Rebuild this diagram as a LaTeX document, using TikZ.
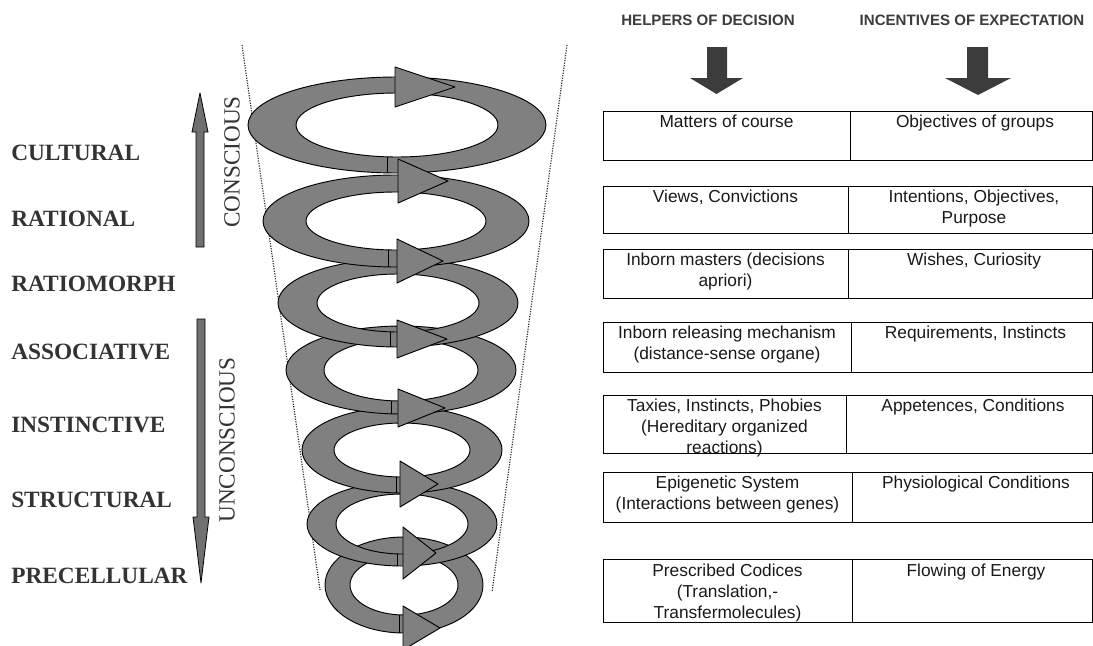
\documentclass[tikz,border=0pt]{standalone}
\usepackage{fontspec}
\setmainfont{Liberation Serif}
\setsansfont{Liberation Sans}
\definecolor{ringgrey}{HTML}{808080}
\definecolor{bargrey}{HTML}{707070}
\definecolor{darkgrey}{HTML}{3C3C3C}
\definecolor{labelgrey}{HTML}{333333}
\tikzset{
  layer/.style     = {anchor=west, inner sep=0pt, text=labelgrey,
                      font=\fontsize{17.5}{20}\selectfont\bfseries},
  statelbl/.style  = {rotate=90, inner sep=0pt, text=labelgrey,
                      font=\fontsize{17.4}{20}\selectfont},
  bar/.style       = {draw=black, fill=bargrey, line width=0.6pt, line join=round},
  ring/.style      = {draw=black, fill=ringgrey, line width=0.7pt, even odd rule},
  arrowhd/.style   = {draw=black, fill=ringgrey, line width=0.7pt, line join=round},
  ringtail/.style  = {draw=black, line width=0.7pt},
  funnel/.style    = {densely dotted, line width=0.9pt, black!80},
  header/.style    = {inner sep=0pt, text=darkgrey,
                      font=\sffamily\bfseries\fontsize{11.3}{13}\selectfont},
  pointer/.style   = {fill=darkgrey},
  cellbox/.style   = {draw=black, line width=0.75pt},
  celltext/.style  = {anchor=north, align=center, inner sep=0pt, text=black!90,
                      font=\sffamily\fontsize{13}{15.5}\selectfont},
}
\begin{document}
\begin{tikzpicture}[x=0.75pt, y=-0.75pt]
  \useasboundingbox (0,0) rectangle (1093,646);

  % levels
  \node[layer] (cultural)    at (11,153) {CULTURAL};
  \node[layer] (rational)    at (11,219) {RATIONAL};
  \node[layer] (ratiomorph)  at (11,284) {RATIOMORPH};
  \node[layer] (associative) at (11,352) {ASSOCIATIVE};
  \node[layer] (instinctive) at (11,425) {INSTINCTIVE};
  \node[layer] (structural)  at (11,500) {STRUCTURAL};
  \node[layer] (precellular) at (11,576) {PRECELLULAR};

  % conscious / unconscious
  \draw[bar] (196,247) -- (196,132) -- (192,132) -- (200,93) -- (208,132) -- (204,132) -- (204,247) -- cycle;
  \draw[bar] (197,319) -- (197,517) -- (193,517) -- (201,583) -- (209,517) -- (205,517) -- (205,319) -- cycle;
  \node[statelbl] (conscious)   at (232,162) {CONSCIOUS};
  \node[statelbl] (unconscious) at (227,440) {UNCONSCIOUS};

  % funnel
  \draw[funnel] (242,45) -- (320,590);
  \draw[funnel] (567,45) -- (492,592);

  % spiral, lowest ring first
  \path[ring] (404,585) ellipse [x radius=79, y radius=48]  (404,585) ellipse [x radius=54, y radius=30];
  \path[ring] (402,524) ellipse [x radius=95, y radius=42]  (402,524) ellipse [x radius=66, y radius=30];
  \path[ring] (402,450) ellipse [x radius=100, y radius=43] (402,450) ellipse [x radius=68, y radius=27];
  \path[ring] (401,370) ellipse [x radius=115, y radius=44] (401,370) ellipse [x radius=77, y radius=31];
  \path[ring] (398,303) ellipse [x radius=120, y radius=44] (398,303) ellipse [x radius=81, y radius=29];
  \path[ring] (396,221) ellipse [x radius=133, y radius=46] (396,221) ellipse [x radius=90, y radius=29];
  \path[ring] (397,125) ellipse [x radius=149, y radius=48] (397,125) ellipse [x radius=101, y radius=32];

  \draw[arrowhd] (395,67)  -- (455,87)  -- (395,107) -- cycle;
  \draw[arrowhd] (398,159) -- (448,181) -- (398,203) -- cycle;
  \draw[arrowhd] (397,239) -- (443,261) -- (397,283) -- cycle;
  \draw[arrowhd] (397,320) -- (447,339) -- (397,358) -- cycle;
  \draw[arrowhd] (398,389) -- (445,408) -- (398,427) -- cycle;
  \draw[arrowhd] (400,461) -- (438,484) -- (400,507) -- cycle;
  \draw[arrowhd] (403,527) -- (436,553) -- (403,579) -- cycle;
  \draw[arrowhd] (403,606) -- (440,628) -- (403,650) -- cycle;

  \draw[ringtail] (387,157) -- (387,173);
  \draw[ringtail] (388,250) -- (388,267);
  \draw[ringtail] (390,332) -- (390,347);
  \draw[ringtail] (391,401) -- (391,414);
  \draw[ringtail] (396,477) -- (396,493);
  \draw[ringtail] (397,554) -- (397,566);
  \draw[ringtail] (399,615) -- (399,633);

  % headers
  \node[header] (helpers)    at (708,20) {HELPERS OF DECISION};
  \node[header] (incentives) at (972,20) {INCENTIVES OF EXPECTATION};
  \fill[pointer] (707,47) -- (707,78) -- (690,78) -- (716.5,94) -- (743,78) -- (727,78) -- (727,47) -- cycle;
  \fill[pointer] (967,47) -- (967,78) -- (945,78) -- (978,95) -- (1011,78) -- (988,78) -- (988,47) -- cycle;

  % table
  \draw[cellbox] (603,111) rectangle (1092,160) (850,111) -- (850,160);
  \draw[cellbox] (603,186) rectangle (1092,233) (848,186) -- (848,233);
  \draw[cellbox] (603,249) rectangle (1092,298) (848,249) -- (848,298);
  \draw[cellbox] (603,322) rectangle (1092,372) (851,322) -- (851,372);
  \draw[cellbox] (603,395) rectangle (1092,453) (846,395) -- (846,453);
  \draw[cellbox] (603,472) rectangle (1092,522) (852,472) -- (852,522);
  \draw[cellbox] (603,559) rectangle (1092,622) (852,559) -- (852,622);

  \node[celltext] (help1) at (726.5,115) {Matters of course};
  \node[celltext] (expc1) at (975,115)   {Objectives of groups};
  \node[celltext] (help2) at (725.5,190) {Views, Convictions};
  \node[celltext] (expc2) at (974,190)   {Intentions, Objectives,\\Purpose};
  \node[celltext] (help3) at (725.5,253) {Inborn masters (decisions\\apriori)};
  \node[celltext] (expc3) at (974,253)   {Wishes, Curiosity};
  \node[celltext] (help4) at (727,326)   {Inborn releasing mechanism\\(distance-sense organe)};
  \node[celltext] (expc4) at (975.5,326) {Requirements, Instincts};
  \node[celltext] (help5) at (724.5,399) {Taxies, Instincts, Phobies\\(Hereditary organized\\reactions)};
  \node[celltext] (expc5) at (973,399)   {Appetences, Conditions};
  \node[celltext] (help6) at (727.5,476) {Epigenetic System\\(Interactions between genes)};
  \node[celltext] (expc6) at (976,476)   {Physiological Conditions};
  \node[celltext] (help7) at (727.5,564) {Prescribed Codices\\(Translation,-\\Transfermolecules)};
  \node[celltext] (expc7) at (976,564)   {Flowing of Energy};
\end{tikzpicture}
\end{document}
